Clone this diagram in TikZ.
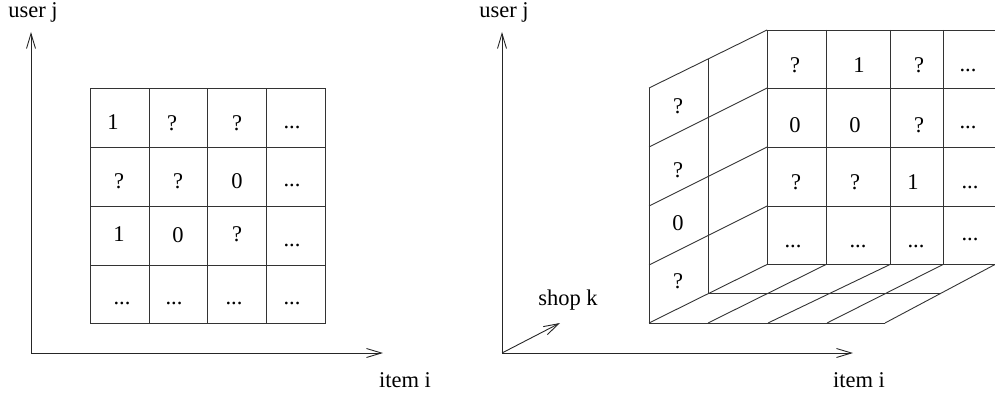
\documentclass[tikz,border=0pt]{standalone}
\usepackage{fontspec}
\setmainfont{Liberation Serif}
\usetikzlibrary{arrows.meta}
\begin{document}
\begin{tikzpicture}[x=1pt,y=-1pt,line width=0.9pt,
  gridline/.style={draw=black!80},
  axis/.style={draw=black!85,-{Straight Barb[length=15pt,width=9pt]}},
  cell/.style={anchor=base,inner sep=0pt,font=\fontsize{22.5}{27}\selectfont},
  lab/.style={anchor=base,inner sep=0pt,font=\fontsize{22.5}{27}\selectfont}]
\useasboundingbox (0,0) rectangle (995,396);
% ---------- left panel ----------
\coordinate (LO) at (31,353);
\coordinate (LY) at (31,32);
\coordinate (LX) at (383,353);
\draw[axis] (LO) -- (LY);
\draw[axis] (LO) -- (LX);
\node[lab] (Luser) at (33,18) {user j};
\node[lab] (Litem) at (405,387) {item i};
\draw[gridline] (90,88) rectangle (325,323);
\foreach \x in {149,207.5,266.5} \draw[gridline] (\x,88) -- (\x,323);
\foreach \y in {147,206,265} \draw[gridline] (90,\y) -- (325,\y);
\node[cell] (l11) at (113,129) {1};
\node[cell] (l12) at (172,130) {?};
\node[cell] (l13) at (237,130) {?};
\node[cell] (l14) at (292,128.5) {...};
\node[cell] (l21) at (119,188) {?};
\node[cell] (l22) at (178,188) {?};
\node[cell] (l23) at (237,188) {0};
\node[cell] (l24) at (292,186.5) {...};
\node[cell] (l31) at (119,241) {1};
\node[cell] (l32) at (178,242) {0};
\node[cell] (l33) at (237,241) {?};
\node[cell] (l34) at (292,246.5) {...};
\node[cell] (l41) at (122,304.5) {...};
\node[cell] (l42) at (174,304.5) {...};
\node[cell] (l43) at (234,304.5) {...};
\node[cell] (l44) at (292,304.5) {...};
% ---------- right panel ----------
\coordinate (RO) at (502,353);
\coordinate (RY) at (502,32);
\coordinate (RX) at (853,353);
\coordinate (RK) at (560,323);
\draw[axis] (RO) -- (RY);
\draw[axis] (RO) -- (RX);
\draw[axis] (RO) -- (RK);
\node[lab] (Ruser) at (504,18) {user j};
\node[lab] (Ritem) at (859,387) {item i};
\node[lab] (Rshop) at (568,305) {shop k};
% front face
\foreach \y in {30,88,147,206,264.5} \draw[gridline] (767,\y) -- (995,\y);
\foreach \x in {767,826,890,943} \draw[gridline] (\x,30) -- (\x,264.5);
% left face
\draw[gridline] (649,88) -- (649,323);
\draw[gridline] (708,59) -- (708,293.5);
\draw[gridline] (767,30) -- (649,88);
\draw[gridline] (767,88) -- (649,147);
\draw[gridline] (767,147) -- (649,206);
\draw[gridline] (767,206) -- (649,265);
\draw[gridline] (767,264.5) -- (649,323);
% bottom face
\draw[gridline] (649,323) -- (885,323);
\draw[gridline] (708,293.5) -- (940.5,293.5);
\draw[gridline] (826,264.5) -- (708,323);
\draw[gridline] (890,264.5) -- (768,323);
\draw[gridline] (943,264.5) -- (827,323);
\draw[gridline] (995,264.5) -- (885,323);
% left face texts
\node[cell] (s1) at (678,113) {?};
\node[cell] (s2) at (678,177) {?};
\node[cell] (s3) at (678,230) {0};
\node[cell] (s4) at (678,288) {?};
% front face texts
\node[cell] (r11) at (795,72) {?};
\node[cell] (r12) at (859,72) {1};
\node[cell] (r13) at (919,72) {?};
\node[cell] (r14) at (968,71.5) {...};
\node[cell] (r21) at (795,132) {0};
\node[cell] (r22) at (855,132) {0};
\node[cell] (r23) at (919,132) {?};
\node[cell] (r24) at (968,128.5) {...};
\node[cell] (r31) at (796,189) {?};
\node[cell] (r32) at (855,189) {?};
\node[cell] (r33) at (913,189) {1};
\node[cell] (r34) at (970,188.5) {...};
\node[cell] (r41) at (793,247.5) {...};
\node[cell] (r42) at (858,247.5) {...};
\node[cell] (r43) at (916,247.5) {...};
\node[cell] (r44) at (970,240.5) {...};
\end{tikzpicture}
\end{document}
